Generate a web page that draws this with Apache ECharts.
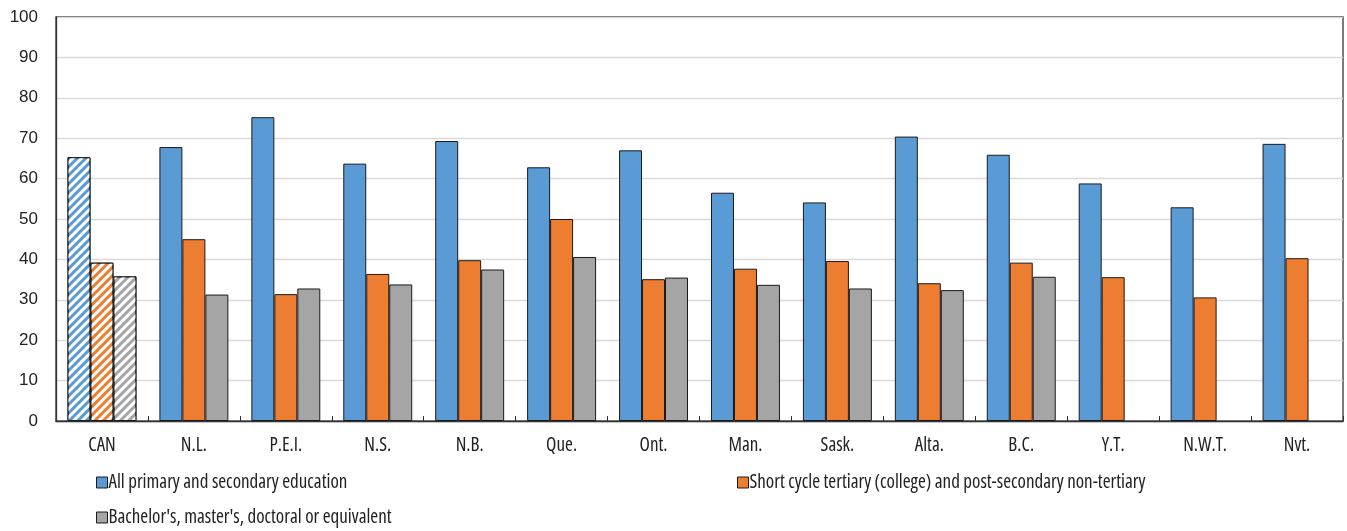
<!DOCTYPE html>
<html>
<head>
<meta charset="utf-8">
<script src="https://cdn.jsdelivr.net/npm/echarts@6/dist/echarts.min.js"></script>
<style>
  html, body { margin: 0; padding: 0; background: #fff; }
  #chart { width: 1347px; height: 531px; }
</style>
</head>
<body>
<div id="chart"></div>
<script>
// Provinces / territories, with the national total first
const categories = ['CAN', 'N.L.', 'P.E.I.', 'N.S.', 'N.B.', 'Que.', 'Ont.', 'Man.', 'Sask.', 'Alta.', 'B.C.', 'Y.T.', 'N.W.T.', 'Nvt.'];

const seriesNames = [
  'All primary and secondary education',
  'Short cycle tertiary (college) and post-secondary non-tertiary',
  "Bachelor's, master's, doctoral or equivalent"
];

const primarySecondary = [65.3, 67.8, 75.2, 63.7, 69.3, 62.8, 67.0, 56.5, 54.1, 70.4, 65.9, 58.8, 52.9, 68.6];
const shortCycle       = [39.2, 45.0, 31.4, 36.4, 39.8, 50.0, 35.1, 37.7, 39.6, 34.1, 39.2, 35.6, 30.6, 40.3];
const bachelorPlus     = [35.8, 31.3, 32.8, 33.8, 37.5, 40.6, 35.5, 33.7, 32.8, 32.4, 35.7, null, null, null];

const yTicks = { min: 0, max: 100, interval: 10 };

const colors = ['#5b9bd5', '#ed7d31', '#a5a5a5'];
// Narrow face for category names and legend, regular face for the value axis
const NARROW = '"Liberation Sans Narrow", "Open Sans", sans-serif';
const NARROW_WEIGHT = 'normal condensed';
const REGULAR = '"Liberation Sans", Arial, sans-serif';

// The national total (first category) is drawn with white diagonal stripes
const stripes = {
  symbol: 'rect',
  symbolSize: 1,
  dashArrayX: [1, 0],
  dashArrayY: [2.2, 2.2],
  rotation: -Math.PI / 4,
  color: '#ffffff'
};

function buildData(values) {
  return values.map((v, i) => {
    if (v === null) return '-';
    if (i === 0) return { value: v, itemStyle: { decal: stripes } };
    return v;
  });
}

const allValues = [primarySecondary, shortCycle, bachelorPlus];

const series = allValues.map((vals, k) => ({
  name: seriesNames[k],
  type: 'bar',
  data: buildData(vals),
  barGap: '0%',
  barCategoryGap: '25%',
  itemStyle: { color: colors[k], borderColor: '#1a1a1a', borderWidth: 1 },
  emphasis: { disabled: true }
}));

const legendBase = {
  orient: 'horizontal',
  icon: 'rect',
  itemWidth: 11,
  itemHeight: 11,
  padding: 0,
  selectedMode: false,
  itemStyle: { borderColor: '#1a1a1a', borderWidth: 1 },
  textStyle: { fontFamily: NARROW, fontWeight: NARROW_WEIGHT, fontSize: 19, color: '#222', padding: [0, 0, 0, -4] }
};

const option = {
  animation: false,
  color: colors,
  grid: {
    left: 56, right: 4, top: 17, bottom: 110,
    show: true, borderColor: '#333', borderWidth: 1.3, backgroundColor: 'transparent'
  },
  legend: [
    Object.assign({}, legendBase, { data: [seriesNames[0]], left: 96, top: 473 }),
    Object.assign({}, legendBase, { data: [seriesNames[1]], left: 737, top: 473 }),
    Object.assign({}, legendBase, { data: [seriesNames[2]], left: 96, top: 508 })
  ],
  xAxis: {
    type: 'category',
    data: categories,
    axisLine: { show: true, lineStyle: { color: '#333', width: 1.3 } },
    axisTick: { show: true, inside: true, length: 5, alignWithLabel: false, lineStyle: { color: '#333' } },
    axisLabel: { fontFamily: NARROW, fontWeight: NARROW_WEIGHT, fontSize: 19, color: '#222', margin: 15 }
  },
  yAxis: {
    type: 'value',
    min: yTicks.min, max: yTicks.max, interval: yTicks.interval,
    axisLine: { show: true, lineStyle: { color: '#333', width: 1.3 } },
    axisTick: { show: false },
    axisLabel: { fontFamily: REGULAR, fontSize: 17, color: '#222', margin: 18 },
    splitLine: { show: true, lineStyle: { color: '#d9d9d9', width: 1.3 } }
  },
  series: series
};

const chart = echarts.init(document.getElementById('chart'), null, { renderer: 'canvas' });
chart.setOption(option);
</script>
</body>
</html>
